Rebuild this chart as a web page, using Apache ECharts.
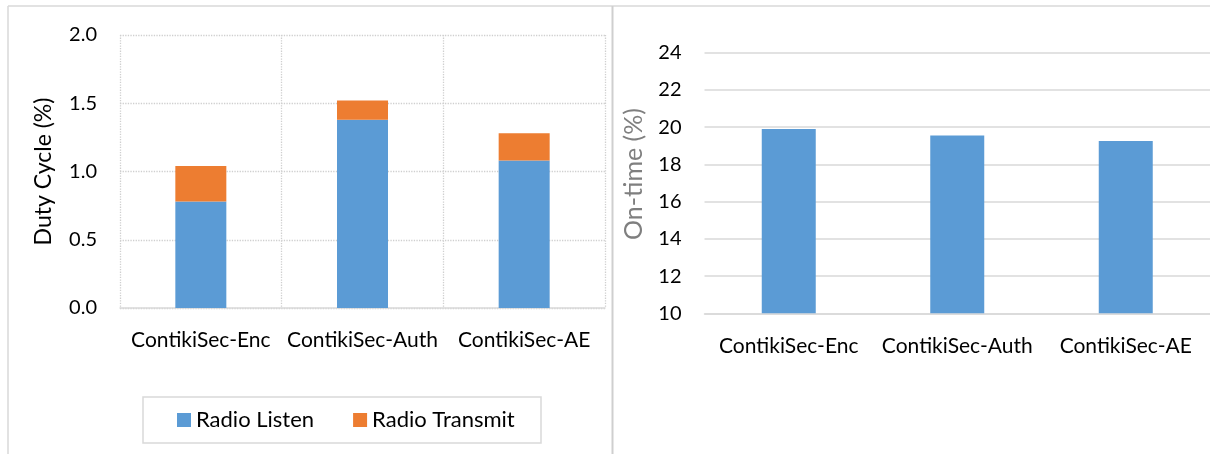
<!DOCTYPE html>
<html>
<head>
<meta charset="utf-8">
<style>
  html, body { margin: 0; padding: 0; background: #fff; overflow: hidden; }
  #chart { width: 1210px; height: 454px; }
</style>
<script src="https://cdn.jsdelivr.net/npm/echarts@6/dist/echarts.min.js"></script>
</head>
<body>
<div id="chart"></div>
<script>
// Categories shared by both panels
const categories = ['ContikiSec-Enc', 'ContikiSec-Auth', 'ContikiSec-AE'];

// Left panel: duty cycle (%) split into listen / transmit
const radioListen = [0.78, 1.38, 1.08];
const radioTransmit = [0.26, 0.14, 0.20];

// Right panel: radio on-time (%)
const onTime = [19.9, 19.55, 19.25];

// Axis tick settings
const dutyTicks = { min: 0, max: 2, interval: 0.5 };
const onTimeTicks = { min: 10, max: 24, interval: 2 };

const FONT = 'Lato, "Open Sans", sans-serif';
const BLUE = '#5B9BD5';
const ORANGE = '#ED7D31';
const GRID_GRAY = '#d9d9d9';

const chart = echarts.init(document.getElementById('chart'), null, { renderer: 'canvas' });

chart.setOption({
  animation: false,
  backgroundColor: '#fff',
  textStyle: { fontFamily: FONT },
  graphic: [
    // outer frame and the divider between the two panels
    { type: 'line', shape: { x1: 8, y1: 6, x2: 1210, y2: 6 }, style: { stroke: GRID_GRAY, lineWidth: 1.5 } },
    { type: 'line', shape: { x1: 8, y1: 6, x2: 8, y2: 454 }, style: { stroke: GRID_GRAY, lineWidth: 1.5 } },
    { type: 'line', shape: { x1: 612.5, y1: 6, x2: 612.5, y2: 454 }, style: { stroke: '#cfcfcf', lineWidth: 2 } },
    // legend box
    { type: 'rect', shape: { x: 143, y: 397, width: 398, height: 46 }, style: { fill: 'none', stroke: GRID_GRAY, lineWidth: 1.5 } }
  ],
  legend: {
    data: ['Radio Listen', 'Radio Transmit'],
    left: 177,
    top: 409,
    padding: 0,
    icon: 'rect',
    itemWidth: 14,
    itemHeight: 14,
    itemGap: 39,
    textStyle: { fontFamily: FONT, fontSize: 22, color: '#000', lineHeight: 22 }
  },
  grid: [
    { left: 120, top: 35, width: 485, height: 273 },
    { left: 704.5, top: 52.7, width: 512.5, height: 260.6 }
  ],
  xAxis: [
    {
      type: 'category', gridIndex: 0, data: categories,
      axisLine: { show: true, lineStyle: { color: GRID_GRAY, width: 1.5 } },
      axisTick: { show: false },
      axisLabel: { color: '#000', fontSize: 21, margin: 22, fontFamily: FONT, interval: 0 },
      splitLine: { show: true, lineStyle: { color: '#cfcfcf', type: 'dotted', width: 1.3 } }
    },
    {
      type: 'category', gridIndex: 1, data: categories,
      axisLine: { show: true, lineStyle: { color: GRID_GRAY, width: 1.5 } },
      axisTick: { show: false },
      axisLabel: { color: '#000', fontSize: 21, margin: 22, fontFamily: FONT, interval: 0 },
      splitLine: { show: false }
    }
  ],
  yAxis: [
    {
      type: 'value', gridIndex: 0,
      min: dutyTicks.min, max: dutyTicks.max, interval: dutyTicks.interval,
      name: 'Duty Cycle (%)', nameLocation: 'middle', nameGap: 65,
      nameTextStyle: { color: '#000', fontSize: 23, fontFamily: FONT },
      axisLine: { show: false }, axisTick: { show: false },
      axisLabel: { color: '#000', fontSize: 20, margin: 23, fontFamily: FONT, formatter: v => v.toFixed(1) },
      splitLine: { show: true, lineStyle: { color: '#cfcfcf', type: 'dotted', width: 1.3 } }
    },
    {
      type: 'value', gridIndex: 1,
      min: onTimeTicks.min, max: onTimeTicks.max, interval: onTimeTicks.interval,
      name: 'On-time (%)', nameLocation: 'middle', nameGap: 58,
      nameTextStyle: { color: '#7f7f7f', fontSize: 25, fontFamily: FONT, padding: [0, 0, 0, 18] },
      axisLine: { show: false }, axisTick: { show: false },
      axisLabel: { color: '#000', fontSize: 20, margin: 23, fontFamily: FONT },
      splitLine: { show: true, lineStyle: { color: GRID_GRAY, width: 1.5 } }
    }
  ],
  series: [
    {
      name: 'Radio Listen', type: 'bar', xAxisIndex: 0, yAxisIndex: 0, stack: 'duty',
      data: radioListen, barWidth: 51, itemStyle: { color: BLUE }
    },
    {
      name: 'Radio Transmit', type: 'bar', xAxisIndex: 0, yAxisIndex: 0, stack: 'duty',
      data: radioTransmit, barWidth: 51, itemStyle: { color: ORANGE }
    },
    {
      name: 'On-time', type: 'bar', xAxisIndex: 1, yAxisIndex: 1,
      data: onTime, barWidth: 54, itemStyle: { color: BLUE }
    }
  ]
});
</script>
</body>
</html>
